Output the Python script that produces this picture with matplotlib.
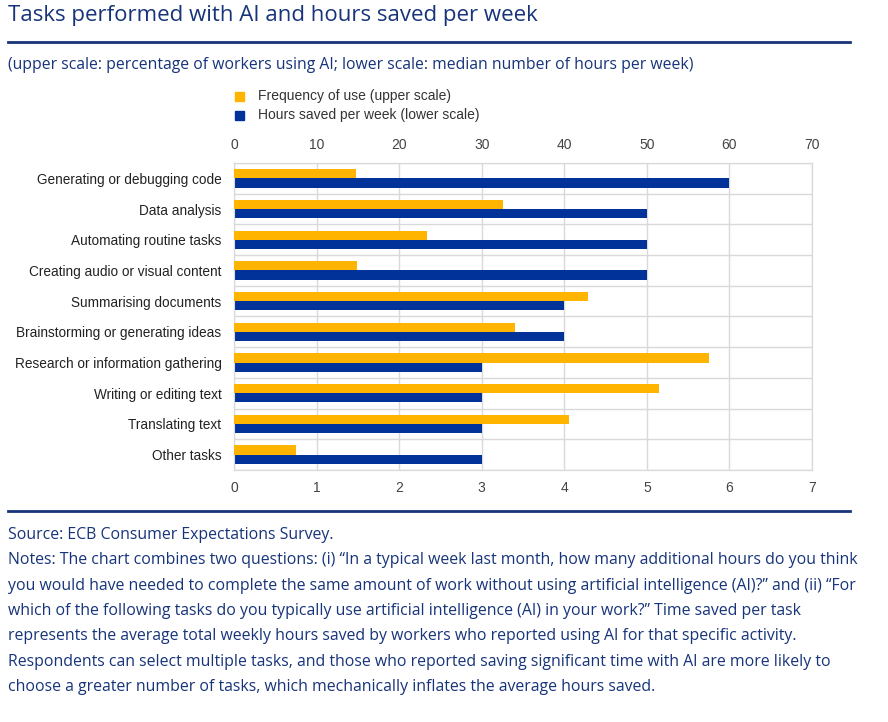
import matplotlib

matplotlib.use("Agg")

import matplotlib.pyplot as plt
import numpy as np

tasks = [
    "Generating or debugging code",
    "Data analysis",
    "Automating routine tasks",
    "Creating audio or visual content",
    "Summarising documents",
    "Brainstorming or generating ideas",
    "Research or information gathering",
    "Writing or editing text",
    "Translating text",
    "Other tasks",
]
frequency_pct = [14.8, 32.6, 23.4, 14.9, 42.9, 34.0, 57.5, 51.5, 40.6, 7.5]
hours_saved = [6, 5, 5, 5, 4, 4, 3, 3, 3, 3]

upper_ticks = [0, 10, 20, 30, 40, 50, 60, 70]
lower_ticks = [0, 1, 2, 3, 4, 5, 6, 7]

YELLOW = "#ffb400"
BLUE = "#003299"
NAVY = "#17347a"
GRID = "#d9d9d9"
TICK = "#444444"

notes = [
    "Source: ECB Consumer Expectations Survey.",
    "Notes: The chart combines two questions: (i) \u201cIn a typical week last month, how many additional hours do you think",
    "you would have needed to complete the same amount of work without using artificial intelligence (AI)?\u201d and (ii) \u201cFor",
    "which of the following tasks do you typically use artificial intelligence (AI) in your work?\u201d Time saved per task",
    "represents the average total weekly hours saved by workers who reported using AI for that specific activity.",
    "Respondents can select multiple tasks, and those who reported saving significant time with AI are more likely to",
    "choose a greater number of tasks, which mechanically inflates the average hours saved.",
]

fig = plt.figure(figsize=(8.88, 7.22), dpi=100)
ax = fig.add_axes([234 / 888, 1 - 470 / 722, (812 - 234) / 888, (470 - 163) / 722])
ax_top = ax.twiny()

y = np.arange(len(tasks))
h = 0.3
ax.barh(y + h / 2, hours_saved, height=h, color=BLUE, zorder=3)
ax_top.barh(y - h / 2, frequency_pct, height=h, color=YELLOW, zorder=3)

ax.set_ylim(len(tasks) - 0.5, -0.5)
ax.set_xlim(0, 7)
ax_top.set_xlim(0, 70)
ax.set_xticks(lower_ticks)
ax_top.set_xticks(upper_ticks)
ax.set_yticks(y)
ax.set_yticklabels(tasks, fontfamily="Liberation Sans", fontsize=9.8, color="#222222")
ax.set_yticks(np.arange(len(tasks) + 1) - 0.5, minor=True)

ax.grid(axis="x", color=GRID, lw=1, zorder=0)
ax.grid(axis="y", which="minor", color=GRID, lw=1, zorder=0)
ax.tick_params(axis="y", which="both", length=0, pad=9)
ax.tick_params(axis="x", length=0, pad=8, labelsize=10, labelcolor=TICK)
ax_top.tick_params(axis="x", length=0, pad=8, labelsize=10, labelcolor=TICK)
for lab in ax.get_xticklabels() + ax_top.get_xticklabels():
    lab.set_fontfamily("Liberation Sans")
for a in (ax, ax_top):
    for s in a.spines.values():
        s.set_color(GRID)

# legend
fig.patches.append(plt.Rectangle((235 / 888, 1 - 101 / 722), 9 / 888, 9 / 722,
                                 transform=fig.transFigure, color=YELLOW))
fig.patches.append(plt.Rectangle((235 / 888, 1 - 120 / 722), 9 / 888, 9 / 722,
                                 transform=fig.transFigure, color=BLUE))
fig.text(258 / 888, 1 - 96 / 722, "Frequency of use (upper scale)", fontsize=10,
         fontfamily="Liberation Sans", color="#333333", va="center")
fig.text(258 / 888, 1 - 115 / 722, "Hours saved per week (lower scale)", fontsize=10,
         fontfamily="Liberation Sans", color="#333333", va="center")

fig.text(8 / 888, 1 - 16 / 722, "Tasks performed with AI and hours saved per week",
         fontsize=16, fontfamily="Open Sans", color=NAVY, va="center")
fig.add_artist(plt.Line2D([8 / 888, 850 / 888], [1 - 42 / 722] * 2, color=NAVY, lw=2))
fig.text(8 / 888, 1 - 65 / 722,
         "(upper scale: percentage of workers using AI; lower scale: median number of hours per week)",
         fontsize=11.3, fontfamily="Open Sans", color=NAVY, va="center")
fig.add_artist(plt.Line2D([8 / 888, 850 / 888], [1 - 511 / 722] * 2, color=NAVY, lw=2))

for i, line in enumerate(notes):
    fig.text(8 / 888, 1 - (535 + i * 25.3) / 722, line, fontsize=11.4,
             fontfamily="Open Sans", color=NAVY, va="center")

fig.savefig("out.png", dpi=100)
